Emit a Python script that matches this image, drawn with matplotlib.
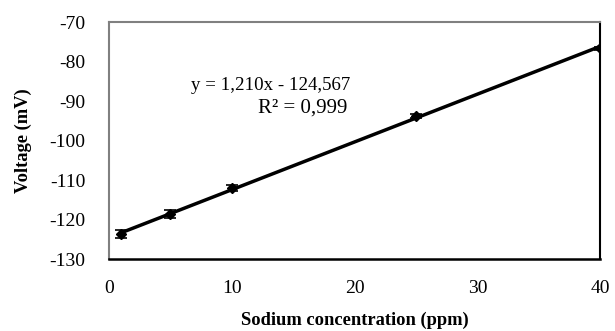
import matplotlib
matplotlib.use("Agg")
import matplotlib.pyplot as plt
import numpy as np

plt.rcParams['font.family'] = ['Liberation Serif', 'DejaVu Serif']
plt.rcParams['axes.unicode_minus'] = False

conc = [1, 5, 10, 25, 40]
voltage = [-123.6, -118.6, -112.0, -93.8, -76.7]
err = [1.0, 1.0, 0.8, 0.6, 0.4]
slope, intercept = 1.210, -124.567
eq_line = "y = 1,210x - 124,567"
r2_line = "R² = 0,999"

fig = plt.figure(figsize=(6.15, 3.31), dpi=100)
ax = fig.add_axes([0.177, 0.2175, 0.799, 0.716])

xs = np.array([min(conc), max(conc)])
ax.plot(xs, slope * xs + intercept, color='black', lw=2.5, zorder=2)
ax.errorbar(conc, voltage, yerr=err, fmt='D', color='black', ms=5.5,
            ecolor='black', elinewidth=1.2, capsize=4, capthick=1.2, zorder=3)

ax.set_xlim(0, 40)
ax.set_ylim(-130, -70)
ax.set_xticks([0, 10, 20, 30, 40])
ax.set_yticks(np.arange(-130, -69, 10))
ax.tick_params(length=0, labelsize=14)
ax.tick_params(axis='y', pad=17)
ax.tick_params(axis='x', pad=15)

for s in ['left', 'top']:
    ax.spines[s].set_color('#808080')
    ax.spines[s].set_linewidth(1.5)
ax.spines['bottom'].set_color('black')
ax.spines['bottom'].set_linewidth(1.8)
ax.spines['right'].set_color('black')
ax.spines['right'].set_linewidth(1.5)

ax.set_xlabel("Sodium concentration (ppm)", fontsize=13.3, fontweight='bold', labelpad=11)
ax.set_ylabel("Voltage (mV)", fontsize=13.3, fontweight='bold', labelpad=12)

ax.text(0.492, 0.734, eq_line, transform=ax.transAxes, ha='right', va='center',
        fontsize=13.6)
ax.text(0.486, 0.637, r2_line, transform=ax.transAxes, ha='right', va='center',
        fontsize=15)

fig.savefig("out.png", dpi=100)
